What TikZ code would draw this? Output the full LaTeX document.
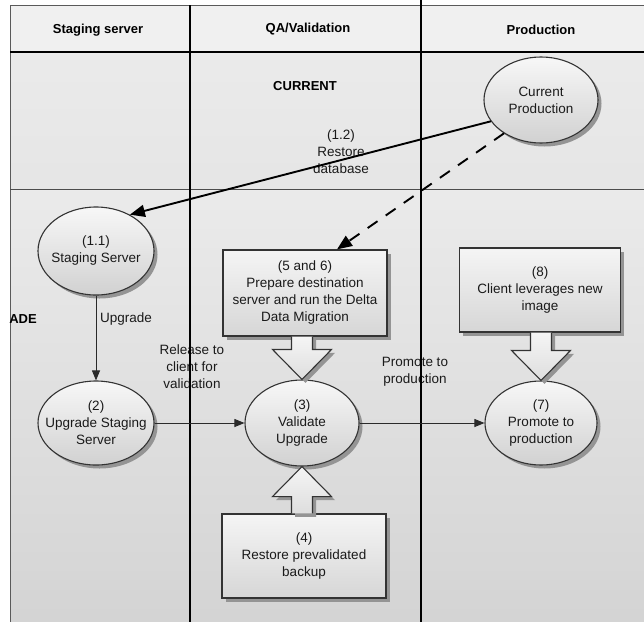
\documentclass[tikz,border=0pt]{standalone}
\usepackage{fontspec}
\setmainfont{Liberation Sans}
\usetikzlibrary{shapes.geometric,arrows.meta,shadows,calc}
\definecolor{txtcol}{HTML}{1A1A1A}
\definecolor{edgecol}{HTML}{2A2A2A}
\definecolor{framecol}{HTML}{5A5A5A}
\newcommand\blkdown[2]{%
  \draw[blockarr] ($(#2.north |- #1.south)+(-10.5,0)$) -- ($(#2.north)+(-10.5,-30)$)
    -- ($(#2.north)+(-29.5,-30)$) -- (#2.north) -- ($(#2.north)+(29.5,-30)$)
    -- ($(#2.north)+(10.5,-30)$) -- ($(#2.north |- #1.south)+(10.5,0)$);}
\newcommand\blkup[2]{%
  \draw[blockarr] ($(#2.south |- #1.north)+(-10.5,0)$) -- ($(#2.south)+(-10.5,30)$)
    -- ($(#2.south)+(-29.5,30)$) -- (#2.south) -- ($(#2.south)+(29.5,30)$)
    -- ($(#2.south)+(10.5,30)$) -- ($(#2.south |- #1.north)+(10.5,0)$);}
\begin{document}
\begin{tikzpicture}[x=1pt,y=-1pt,
  every node/.style={font=\fontsize{13.5}{17}\selectfont, text=txtcol},
  hdr/.style={font=\bfseries\fontsize{13}{15}\selectfont, text=black},
  lbl/.style={align=center, inner sep=0pt},
  shad/.style={drop shadow={shadow xshift=3.5pt, shadow yshift=-3.5pt, fill=black!42, opacity=1}},
  ell/.style={ellipse, draw=black!80, line width=1.1pt, top color=black!3, bottom color=black!18,
    minimum width=116, minimum height=86, inner sep=0pt, shad},
  boxn/.style={rectangle, draw=black!80, line width=1.3pt, top color=black!4, bottom color=black!16,
    minimum width=164, minimum height=86, align=center, inner sep=2pt, shad},
  blockarr/.style={draw=black!80, line width=1.1pt, top color=black!4, bottom color=black!13, shad},
  thinarr/.style={draw=edgecol, line width=0.9pt, -{Triangle[length=10pt,width=8pt]}},
  thickarr/.style={draw=black, line width=1.9pt, -{Triangle[length=15pt,width=12pt]}}
]
\useasboundingbox (0,0) rectangle (644,621);
% backgrounds
\fill[black!6] (10,5) rectangle (650,52);
\fill[top color=black!8, bottom color=black!10] (10,52) rectangle (650,189);
\fill[top color=black!8, bottom color=black!17] (10,189) rectangle (650,625);
% frame and row lines
\draw[framecol, line width=0.9pt] (650,5) -- (10,5) -- (10,625);
\draw[black!70, line width=0.9pt] (10,189) -- (650,189);
\draw[black, line width=1.4pt] (10,52) -- (650,52);
% header texts
\node[hdr] (h1) at (98,30) {Staging server};
\node[hdr] (h2) at (308,29) {QA/Validation};
\node[hdr] (h3) at (541,30) {Production};
\node[hdr] (cur) at (305,86) {CURRENT};
\node[hdr, anchor=east, inner sep=0pt] (upg) at (37,319) {ADE};
% edge labels
\node[lbl] (l12) at (341,152) {(1.2)\\Restore\\database};
\node[lbl, anchor=west] (lup) at (100,319) {Upgrade};
\node[lbl] (lrel) at (192,367) {Release to\\client for\\validation};
\node[lbl] (lpro) at (415,372) {Promote to\\production};
% column lines
\draw[black, line width=1.5pt] (190,5) -- (190,625);
\draw[black, line width=1.5pt] (421,0) -- (421,625);
% nodes
\node[ell, minimum width=114, label={[lbl]center:{Current\\Production}}] (cp) at (541,100) {};
\node[ell, minimum height=88, label={[lbl]center:{(1.1)\\Staging Server}}] (s11) at (96,251) {};
\node[ell, minimum height=84, label={[lbl]center:{(2)\\Upgrade Staging\\Server}}] (s2) at (96,423) {};
\node[ell, minimum width=114, label={[lbl]center:{(3)\\Validate\\Upgrade}}] (v3) at (302,423) {};
\node[ell, minimum width=112, minimum height=84, label={[lbl]center:{(7)\\Promote to\\production}}] (p7) at (541,423) {};
\node[boxn] (b56) at (305,293) {(5 and 6)\\Prepare destination\\server and run the Delta\\Data Migration};
\node[boxn, minimum width=161, minimum height=84] (b8) at (540,290) {(8)\\Client leverages new\\image};
\node[boxn, minimum height=84] (b4) at (304,556) {(4)\\Restore prevalidated\\backup};
% block arrows
\blkdown{b56}{v3}
\blkdown{b8}{p7}
\blkup{b4}{v3}
% connectors
\draw[thickarr] (cp.203) -- (s11.47.5);
\draw[thickarr, dash pattern=on 12pt off 10pt] (cp.222) -- ($(b56.north)+(32,0)$);
\draw[thinarr] (s11) -- (s2);
\draw[thinarr] (s2) -- (v3);
\draw[thinarr] (v3) -- (p7);
\end{tikzpicture}
\end{document}
